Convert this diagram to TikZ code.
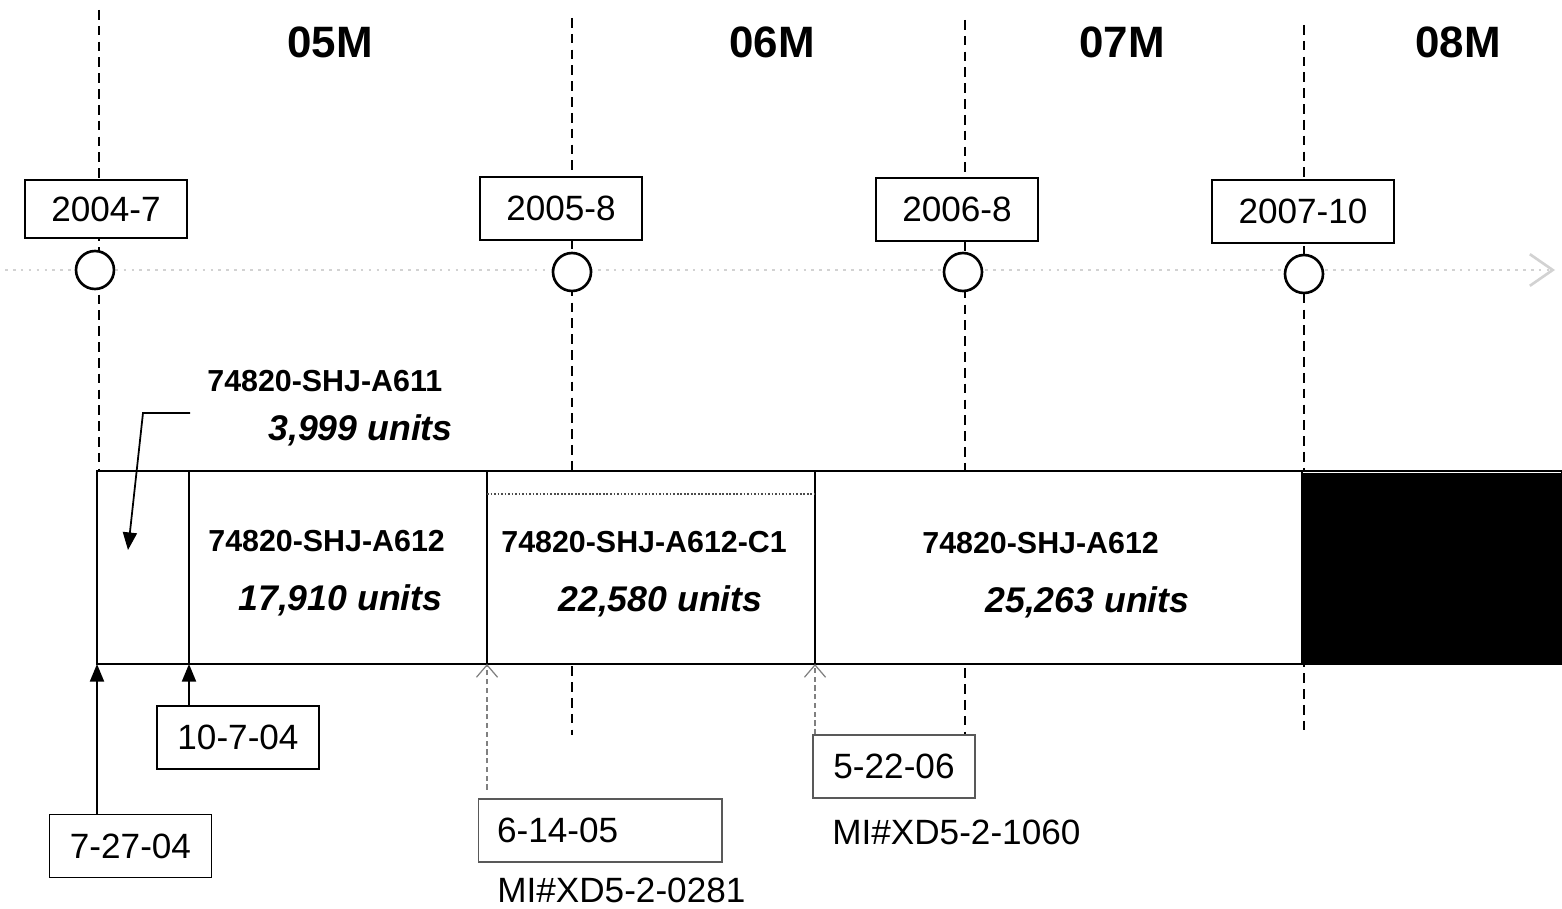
\documentclass[tikz,border=0pt]{standalone}
\usepackage{fontspec}
\setmainfont{Liberation Sans}
\usetikzlibrary{arrows.meta}

\tikzset{
  datebox/.style={draw, fill=white, line width=1pt, font=\fontsize{20}{24}\selectfont,
    minimum width=3.24cm, minimum height=1.26cm, inner sep=0pt},
  milestone/.style={circle, draw, fill=white, line width=1.5pt, minimum size=0.76cm, inner sep=0pt},
  monthlbl/.style={font=\fontsize{25}{30}\selectfont\bfseries},
  partlbl/.style={anchor=west, inner sep=0pt, font=\fontsize{17.3}{20}\selectfont\bfseries},
  qtylbl/.style={anchor=west, inner sep=0pt, font=\fontsize{20.3}{24}\selectfont\bfseries\itshape},
  milbl/.style={anchor=west, inner sep=0pt, font=\fontsize{20}{24}\selectfont},
  gridline/.style={line width=1.3pt, dash pattern=on 5.5pt off 3.5pt},
  solidup/.style={line width=1pt, -{Triangle[length=10pt,width=8pt]}},
  faintup/.style={gray, line width=0.7pt, dash pattern=on 3pt off 2pt, -{Straight Barb[length=7pt,width=12pt]}},
}

\begin{document}
\begin{tikzpicture}[x=0.02cm,y=-0.02cm]
\useasboundingbox (0,0) rectangle (1562,909);

% Year grid lines (behind everything)
\foreach \x/\a/\b in {99/10/471, 572/18/735, 965/20/735, 1304/25/735}
  \draw[gridline] (\x,\a) -- (\x,\b);

% Timeline
\draw[gray!35, line width=1.5pt, dash pattern=on 1.5pt off 3pt,
  -{Straight Barb[length=13pt,width=18pt]}] (5,270) -- (1555,270);

% Model year labels
\foreach \x/\lbl in {330/05M, 772/06M, 1122/07M, 1458/08M}
  \node[monthlbl] (mo\lbl) at (\x,42) {\lbl};

% Milestones on the timeline
\foreach \x/\y/\n in {95/270/1, 572/272/2, 963/272/3, 1304/274/4}
  \node[milestone] (ms\n) at (\x,\y) {};

% Date boxes above the timeline
\node[datebox, minimum height=1.16cm] (d2004) at (106,209) {2004-7};
\node[datebox] (d2005) at (561,208.5) {2005-8};
\node[datebox] (d2006) at (957,209.5) {2006-8};
\node[datebox, minimum width=3.64cm] (d2007) at (1303,211.5) {2007-10};

%-------------------------------------------------------------------
% Production bar
\draw[line width=1.2pt, fill=white] (97,471) rectangle (1562,664);
\foreach \x in {189,487,815,1302}
  \draw[line width=1.2pt] (\x,471) -- (\x,664);
\fill (1302,473) rectangle (1562,665);
\draw[gray!60!black, line width=1pt, densely dotted] (487,494) -- (815,494);

% Part numbers and quantities
\node[partlbl] (pA611) at (207,381) {74820-SHJ-A611};
\node[qtylbl] (qA611) at (268,430) {3,999 units};
\node[partlbl] (pA612) at (208,541) {74820-SHJ-A612};
\node[qtylbl] (qA612) at (238,600) {17,910 units};
\node[partlbl] (pC1) at (501,542) {74820-SHJ-A612-C1};
\node[qtylbl] (qC1) at (558,601) {22,580 units};
\node[partlbl] (pA612b) at (922,543) {74820-SHJ-A612};
\node[qtylbl] (qA612b) at (985,602) {25,263 units};

% Pointer into the narrow A611 cell
\coordinate (a611s) at (190,413);
\coordinate (a611e) at (128,550);
\draw[line width=1pt, -{Triangle[length=10pt,width=8pt]}] (a611s) -- (143,413) -- (a611e);

%-------------------------------------------------------------------
% Change dates below the bar
\node[datebox] (d0727) at (130.5,846) {7-27-04};
\node[datebox] (d1007) at (238,737.5) {10-7-04};
\node[datebox, draw=gray!70!black, line width=0.6pt, minimum width=4.88cm,
  text width=4.12cm, align=left, inner xsep=0.38cm] (d0614) at (600,830.5) {6-14-05};
\node[datebox, draw=gray!70!black, line width=0.6pt] (d0522) at (894,766.5) {5-22-06};

\node[milbl] (mi0281) at (497,890) {MI\#XD5-2-0281};
\node[milbl] (mi1060) at (832,832) {MI\#XD5-2-1060};

\coordinate (p1) at (97,664);
\coordinate (p2) at (189,664);
\coordinate (p3) at (487,664);
\coordinate (p4) at (815,664);
\draw[solidup] (d0727.north -| p1) -- (p1);
\draw[solidup] (d1007.north -| p2) -- (p2);
\draw[faintup] ([yshift=5pt]d0614.north -| p3) -- (p3);
\draw[faintup] (d0522.north -| p4) -- (p4);

\end{tikzpicture}
\end{document}
